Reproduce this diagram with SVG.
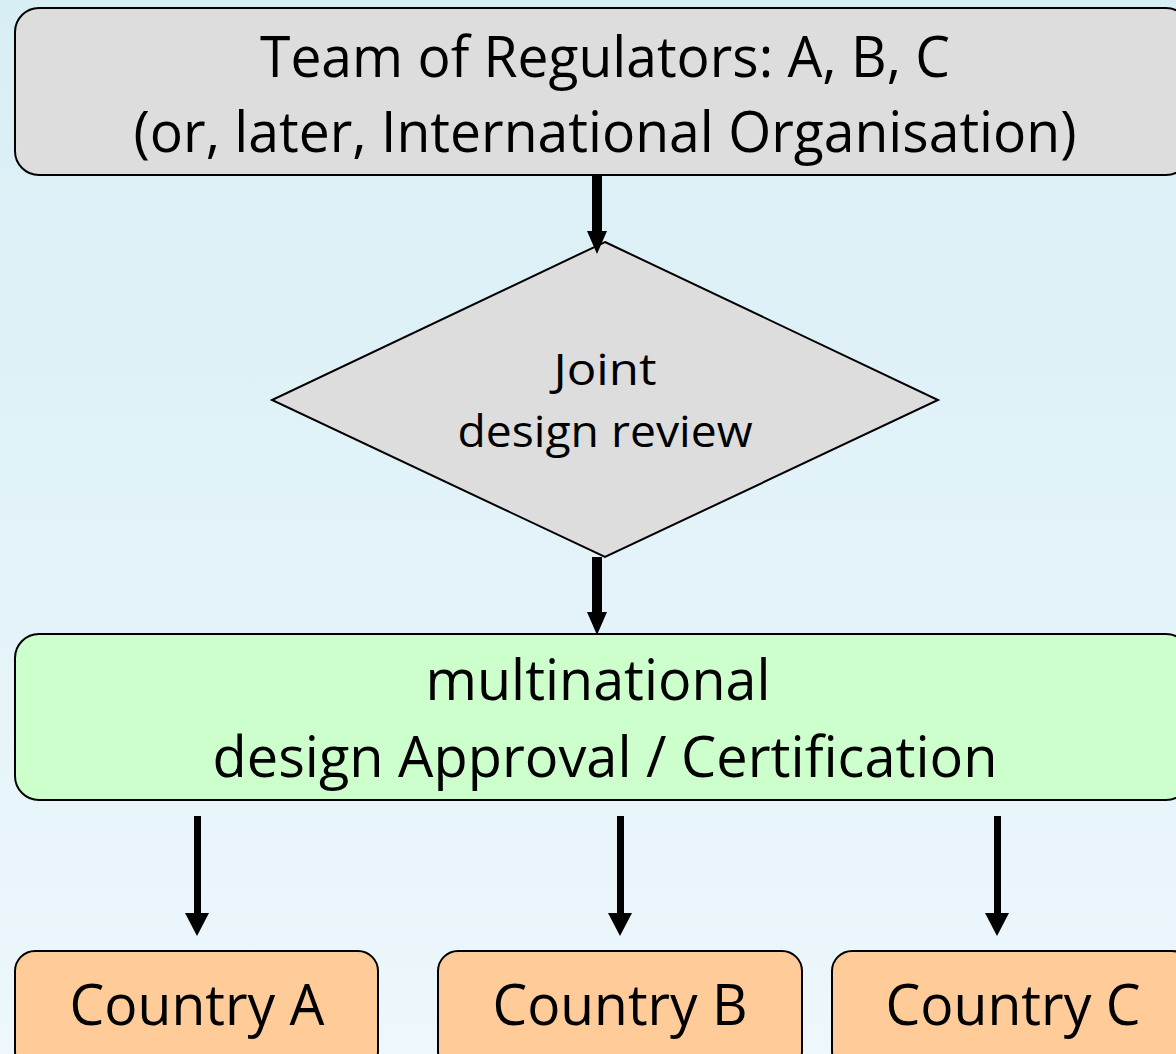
<svg xmlns="http://www.w3.org/2000/svg" width="1176" height="1054" viewBox="0 0 1176 1054">
<defs>
<linearGradient id="bg" x1="0" y1="0" x2="0" y2="1">
<stop offset="0" stop-color="#d8eef5"/>
<stop offset="1" stop-color="#edf7fc"/>
</linearGradient>
</defs>
<style>
.lbl{font-family:"Open Sans","Noto Sans","Liberation Sans",sans-serif;fill:#000;text-anchor:middle}
.big{font-size:57px}
.mid{font-size:44px}
.box{stroke:#000;stroke-width:2}
.conn{fill:#000}
</style>
<rect width="1176" height="1054" fill="url(#bg)"/>
<g id="regulators">
<rect class="box" x="15" y="8" width="1175" height="167" rx="24" fill="#dddddd"/>
<text class="lbl big" x="605" y="77" textLength="690" lengthAdjust="spacingAndGlyphs">Team of Regulators: A, B, C</text>
<text class="lbl big" x="605" y="152" textLength="943" lengthAdjust="spacingAndGlyphs">(or, later, International Organisation)</text>
</g>
<g id="review">
<polygon class="box" points="605,242 938,400 605,557 272,400" fill="#dddddd"/>
<text class="lbl mid" x="605" y="385" textLength="103" lengthAdjust="spacingAndGlyphs">Joint</text>
<text class="lbl mid" x="605" y="447" textLength="295" lengthAdjust="spacingAndGlyphs">design review</text>
</g>
<g id="approval">
<rect class="box" x="15" y="634" width="1175" height="166" rx="24" fill="#ccffcc"/>
<text class="lbl big" x="598" y="700" textLength="345" lengthAdjust="spacingAndGlyphs">multinational</text>
<text class="lbl big" x="605" y="777" textLength="785" lengthAdjust="spacingAndGlyphs">design Approval / Certification</text>
</g>
<g id="countryA">
<rect class="box" x="15" y="951" width="363" height="120" rx="20" fill="#ffcc99"/>
<text class="lbl big" x="197" y="1025" textLength="255" lengthAdjust="spacingAndGlyphs">Country A</text>
</g>
<g id="countryB">
<rect class="box" x="438" y="951" width="364" height="120" rx="20" fill="#ffcc99"/>
<text class="lbl big" x="620" y="1025" textLength="255" lengthAdjust="spacingAndGlyphs">Country B</text>
</g>
<g id="countryC">
<rect class="box" x="832" y="951" width="360" height="120" rx="20" fill="#ffcc99"/>
<text class="lbl big" x="1013" y="1025" textLength="255" lengthAdjust="spacingAndGlyphs">Country C</text>
</g>
<g id="connectors">
<polygon class="conn" points="592,175 602,175 602,231 607,231 597,254 587,231 592,231"/>
<polygon class="conn" points="592,557 602,557 602,612 607,612 597,635 587,612 592,612"/>
<polygon class="conn" points="194,816 201,816 201,913 209,913 197,936 185,913 194,913"/>
<polygon class="conn" points="617,816 624,816 624,913 632,913 620,936 608,913 617,913"/>
<polygon class="conn" points="994,816 1001,816 1001,913 1009,913 997,936 985,913 994,913"/>
</g>
</svg>
